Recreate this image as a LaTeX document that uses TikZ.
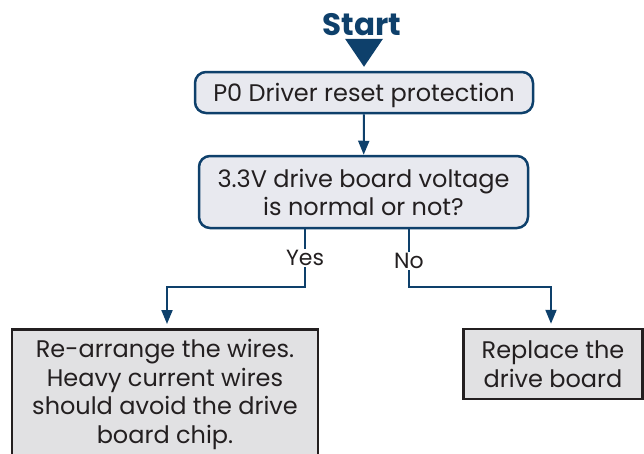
\documentclass[tikz,border=0pt]{standalone}
\usepackage{fontspec}
\setmainfont{Poppins}
\usetikzlibrary{arrows.meta,positioning,calc}
\definecolor{flownavy}{RGB}{14,64,107}
\definecolor{flowpale}{RGB}{232,233,239}
\definecolor{flowgray}{RGB}{225,225,227}
\definecolor{flowink}{RGB}{35,31,32}

\begin{document}
\begin{tikzpicture}[x=1pt,y=-1pt,
    decision/.style={rectangle, rounded corners=11pt, draw=flownavy, fill=flowpale, line width=2.5pt, text=flowink, font=\fontsize{24}{28}\selectfont, align=center, inner sep=0pt},
    action/.style={rectangle, draw=flowink, fill=flowgray, line width=2.5pt, text=flowink, font=\fontsize{24}{28.5}\selectfont, align=center, inner sep=0pt},
    flow/.style={draw=flownavy, line width=2pt, -{Triangle[width=11pt,length=14pt]}},
    answer/.style={fill=white, inner sep=1.5pt, text=flowink, font=\fontsize{22}{24}\selectfont}
]
    \useasboundingbox (0,0) rectangle (644,453);

    \node[font=\fontsize{31}{32}\selectfont\bfseries, text=flownavy] (start) at (362,25) {Start};

    \node[decision, minimum width=338pt, minimum height=41pt, text depth=0pt] (reset) at (364,92.5) {P0 Driver reset protection};
    \node[decision, minimum width=329pt, minimum height=72pt] (volt) at (363.5,192) {3.3V drive board voltage\\is normal or not?};

    \node[action, minimum width=306pt, minimum height=150pt, anchor=north] (rewire) at (165,328) {};
    \node[text=flowink, font=\fontsize{24}{28.5}\selectfont, align=center, anchor=north] (rewiretext) at (165,336) {Re-arrange the wires.\\Heavy current wires\\should avoid the drive\\board chip.};
    \node[action, minimum width=179pt, minimum height=70pt] (replace) at (553,364) {Replace the\\drive board};

    % start marker
    \fill[flownavy] ([xshift=-19pt,yshift=32pt]reset.north) -- ++(38pt,0) -- ([yshift=4pt]reset.north) -- cycle;

    \draw[flow] (reset) -- (volt);

    \coordinate (yesturn) at (305,287);
    \coordinate (noturn) at (409,287);
    \draw[flow, shorten >=4pt] (volt.south -| yesturn) -- node[answer] {Yes} (yesturn) -| (rewire.north -| 167,0);
    \draw[flow, shorten >=4pt] (volt.south -| noturn) -- node[answer, yshift=-3pt] {No} (noturn) -| (replace.north -| 551,0);
\end{tikzpicture}
\end{document}
